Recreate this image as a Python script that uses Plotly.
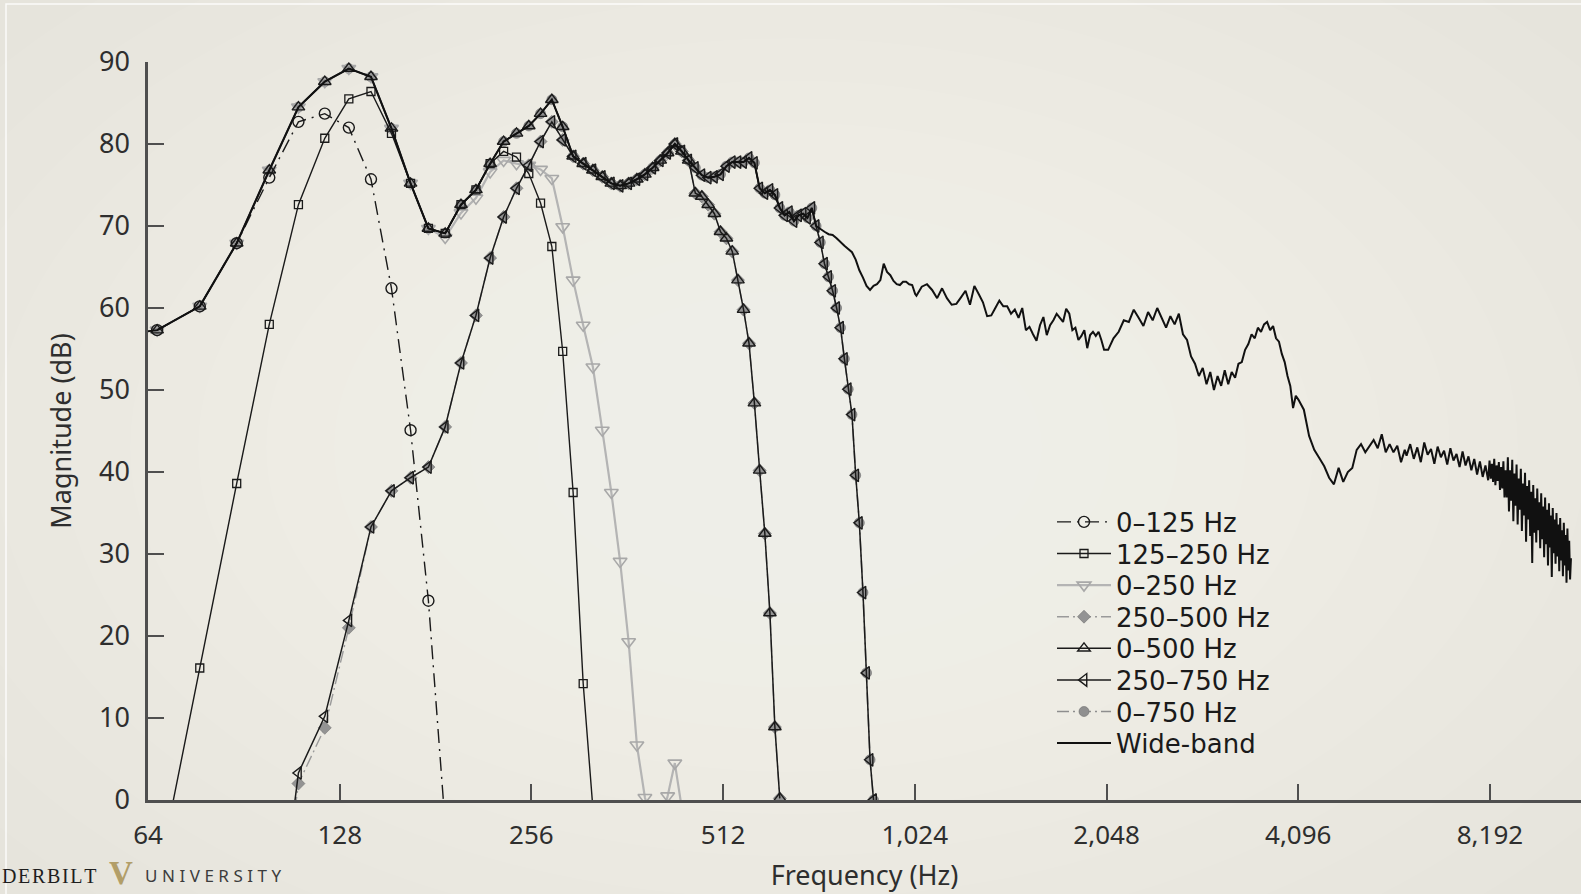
import numpy as np
import plotly.graph_objects as go

# ---------------------------------------------------------------------------
# Spectra on the FFT bin grid (bin width 11.025 Hz); values in dB
# ---------------------------------------------------------------------------
BIN_HZ = 11.025

# Wide-band envelope, bins 5..93
ENV_BIN0 = 5
ENVELOPE_DB = [
    56.6, 57.3, 60.2, 67.9, 76.8, 84.5, 87.6, 89.2, 88.2, 81.9,   # 5-14
    75.2, 69.7, 69.1, 72.6, 74.4, 77.6, 80.3, 81.3, 82.2, 83.7,   # 15-24
    85.4, 82.1, 78.5, 77.6, 76.8, 76.0, 75.2, 74.9, 75.2, 75.7,   # 25-34
    76.3, 77.1, 78.0, 78.9, 80.0, 79.1, 78.0, 77.1, 76.2, 75.9,   # 35-44
    76.0, 76.3, 77.3, 77.8, 77.8, 77.8, 78.3, 77.7, 74.6, 74.0,   # 45-54
    74.4, 73.8, 72.2, 71.3, 71.7, 70.6, 71.3, 71.5, 71.0, 72.2,   # 55-64
    70.0, 69.6, 69.3, 69.0, 68.9, 68.5, 68.0, 67.6, 67.2, 66.8,   # 65-74
    65.9, 64.6, 63.7, 62.7, 62.2, 62.7, 62.9, 63.4, 65.4, 64.4,   # 75-84
    64.0, 63.3, 62.9, 62.8, 63.2, 63.2, 62.9, 62.8, 61.7,         # 85-93
]

# Wide-band above 1 kHz: (start Hz, step Hz, values)
WB_1K_DB = [
    61.5, 62.6, 62.9, 62.2, 61.2, 62.4, 61.2, 60.4, 60.5, 61.3,
    62.1, 60.4, 62.7, 61.7, 60.7, 59.0, 59.1, 60.0, 60.9, 60.2,
    60.2, 59.3, 59.8, 58.8, 60.0, 57.3, 57.7, 56.8, 56.0, 57.9,
    58.9, 56.7, 57.9, 58.5, 59.3, 58.8, 58.3, 59.9, 59.3, 57.3,
    57.6, 56.1, 56.6, 57.3, 55.1, 56.7, 57.1, 56.6, 57.1, 56.1,
    54.9,
]
WB_2K_DB = [
    54.9, 56.3, 57.1, 58.5, 58.3, 59.8, 58.8, 57.8, 59.5, 58.5,
    60.0, 58.8, 57.6, 59.0, 58.0, 59.3, 56.8, 56.1, 54.1, 53.2,
    51.7, 52.7, 50.7, 52.2, 50.0, 51.7, 50.5, 52.4, 50.7, 52.2,
    51.5, 53.2, 53.4, 54.9, 55.6, 56.8, 56.3, 57.6, 57.1, 58.0,
    58.3, 57.3, 57.8, 56.3, 55.9, 54.4, 53.4, 51.7, 50.5, 47.8,
    49.3,
]
WB_4K_DB = [
    48.8, 47.6, 44.4, 42.7, 41.7, 40.7, 39.3, 38.5, 40.5, 38.8,
    40.0, 40.5, 42.7, 43.4, 42.4, 43.2, 43.9, 42.9, 44.6, 42.4,
    43.4, 42.4, 43.2, 41.2, 42.7,
]
WB_6K_DB = [
    42.0, 43.4, 41.6, 43.0, 41.2, 43.6, 42.1, 42.8, 41.0, 43.1,
    41.8, 42.6, 40.9, 42.9, 41.4, 42.2, 40.6, 42.5, 40.8, 41.9,
    40.2, 41.6, 39.7, 41.3, 39.4, 40.8, 39.0,
]
WB_8K_DB = [
    41.4, 39.2, 41.0, 38.8, 41.6, 38.4, 40.8, 38.9, 41.2, 37.8,
    40.6, 38.0, 41.3, 36.9, 40.2, 36.9, 41.8, 35.2, 40.2, 36.5,
    41.5, 34.0, 39.8, 35.9, 40.9, 33.6, 39.2, 35.4, 40.4, 32.8,
    38.6, 34.7, 39.9, 31.5, 38.3, 34.2, 39.0, 32.2, 37.6, 28.9,
    38.4, 32.6, 36.8, 31.4, 38.0, 32.9, 36.3, 30.7, 37.4, 31.8,
    35.8, 29.6, 36.9, 31.2, 35.4, 28.6, 36.2, 30.8, 34.7, 27.2,
    35.6, 30.1, 34.2, 28.8, 35.0, 29.7, 33.6, 27.9, 34.4, 29.2,
    32.9, 27.3, 33.8, 28.6, 32.3, 26.5, 33.1, 28.0, 31.6, 26.9,
    29.5,
]
WB_SEGMENTS = [(1030, 20, WB_1K_DB), (2060, 40, WB_2K_DB),
               (4100, 80, WB_4K_DB), (6060, 80, WB_6K_DB),
               (8180, 35, WB_8K_DB)]

# Filtered versions (values on bins, first bin noted)
LP125_DB = [57.3, 60.2, 67.9, 75.9, 82.7, 83.7, 82.0, 75.7, 62.4, 45.1,
            24.3, -3.0]                                             # bins 6-17
BP125_250_LOW_DB = [-9.9, 16.1, 38.6, 58.0, 72.6, 80.7, 85.5, 86.4, 81.3]   # bins 6-14
BP125_250_HIGH_DB = [79.1, 78.4, 76.4, 72.8, 67.5, 54.7, 37.5, 14.2, -1.0]  # bins 21-29
LP250_TAIL_DB = [68.6, 71.6, 73.4, 76.6, 78.0, 77.6, 77.4, 76.9, 75.8, 69.9,
                 63.4, 57.9, 52.8, 45.1, 37.5, 29.1, 19.3, 6.7, 0.3, -3.0,
                 -3.0, 0.5, 4.5, -1.0]                              # bins 17-40
RISE_250_750_DB = [-25.0, 3.3, 10.2, 21.9, 33.3, 37.7, 39.3, 40.6, 45.5, 53.3,
                   59.1, 66.1, 71.1, 74.6, 77.4, 80.3, 82.7, 80.5]  # bins 9-26
RISE_250_500_DB = [-25.0, 2.0, 8.8, 21.0, 33.3, 37.7, 39.3, 40.6, 45.5, 53.3,
                   59.1, 66.1, 71.1, 74.6, 77.4, 80.3, 82.7, 80.5]  # bins 9-26
ROLLOFF_500_DB = [74.0, 73.6, 72.6, 71.5, 69.3, 68.5, 66.9, 63.4, 59.8, 55.7,
                  48.4, 40.2, 32.5, 22.8, 8.9, 0.2]                 # bins 42-57
ROLLOFF_750_DB = [68.0, 65.4, 63.8, 62.1, 60.0, 57.6, 53.8, 50.1, 47.0, 39.6,
                  33.8, 25.3, 15.5, 4.9, 0.0]                       # bins 66-80

TICK_HZ = [64, 128, 256, 512, 1024, 2048, 4096, 8192]
TICK_TEXT = ["64", "128", "256", "512", "1,024", "2,048", "4,096", "8,192"]
Y_TICKS = [0, 10, 20, 30, 40, 50, 60, 70, 80, 90]


def env(k0, k1):
    return ENVELOPE_DB[k0 - ENV_BIN0:k1 - ENV_BIN0 + 1]


def bins_hz(k0, n):
    return [(k0 + i) * BIN_HZ for i in range(n)]


lp125 = LP125_DB
bp125_250 = BP125_250_LOW_DB + env(15, 20) + BP125_250_HIGH_DB
lp250 = env(6, 16) + LP250_TAIL_DB
bp250_500 = RISE_250_500_DB + env(27, 41) + ROLLOFF_500_DB
lp500 = env(6, 41) + ROLLOFF_500_DB
bp250_750 = RISE_250_750_DB + env(27, 65) + ROLLOFF_750_DB
lp750 = env(6, 65) + ROLLOFF_750_DB

wide_hz = bins_hz(ENV_BIN0, len(ENVELOPE_DB))
wide_db = list(ENVELOPE_DB)
for start, step, vals in WB_SEGMENTS:
    wide_hz += [start + step * i for i in range(len(vals))]
    wide_db += vals

BLACK = "#1a1a1a"
AXIS = "#4f4f4f"
PLOT_L, PLOT_W, PLOT_T, PLOT_H = 148, 1433, 62, 738

fig = go.Figure()

# drawing order: grey filled markers underneath, wide-band on top;
# "row" is the position of the entry in the key
series = [
    dict(name="0\u2013750 Hz", k0=6, y=lp750, row=6,
         line=dict(color="#8e8e8e", width=1.6, dash="12px,4px,2px,4px"),
         marker=dict(symbol="circle", size=10, color="#8f8f8f",
                     line=dict(color="#6e6e6e", width=0.6))),
    dict(name="250\u2013500 Hz", k0=9, y=bp250_500, row=3,
         line=dict(color="#9a9a9a", width=1.4, dash="12px,4px,2px,4px"),
         marker=dict(symbol="diamond", size=10, color="#939393",
                     line=dict(color="#707070", width=0.6))),
    dict(name="0\u2013250 Hz", k0=6, y=lp250, row=2,
         line=dict(color="#b4b4b4", width=2.2),
         marker=dict(symbol="triangle-down-open", size=12, color="#a8a8a8",
                     line=dict(color="#a8a8a8", width=1.6))),
    dict(name="250\u2013750 Hz", k0=9, y=bp250_750, row=5,
         line=dict(color=BLACK, width=1.5),
         marker=dict(symbol="triangle-left-open", size=11, color=BLACK,
                     line=dict(color=BLACK, width=1.4))),
    dict(name="0\u2013500 Hz", k0=6, y=lp500, row=4,
         line=dict(color=BLACK, width=1.5),
         marker=dict(symbol="triangle-up-open", size=11, color=BLACK,
                     line=dict(color=BLACK, width=1.4))),
    dict(name="125\u2013250 Hz", k0=6, y=bp125_250, row=1,
         line=dict(color=BLACK, width=1.4),
         marker=dict(symbol="square-open", size=8, color=BLACK,
                     line=dict(color=BLACK, width=1.3))),
    dict(name="0\u2013125 Hz", k0=6, y=lp125, row=0,
         line=dict(color=BLACK, width=1.4, dash="14px,6px,2px,6px"),
         marker=dict(symbol="circle-open", size=11, color=BLACK,
                     line=dict(color=BLACK, width=1.4))),
]


def legend_ref(row):
    return "legend" if row == 0 else f"legend{row + 1}"


for s in series:
    fig.add_trace(go.Scatter(
        x=bins_hz(s["k0"], len(s["y"])), y=s["y"], name=s["name"],
        mode="lines+markers", line=s["line"], marker=s["marker"],
        legend=legend_ref(s["row"]),
    ))

fig.add_trace(go.Scatter(
    x=wide_hz, y=wide_db, name="Wide-band", mode="lines",
    line=dict(color="#111111", width=2.0), legend=legend_ref(7),
))

# key: one single-entry legend per row, stacked at a fixed pitch
KEY_LEFT_PX, KEY_TOP_ROW_PX, KEY_PITCH_PX = 1052, 522, 31.6
legends = {}
for row in range(8):
    cy_px = KEY_TOP_ROW_PX + KEY_PITCH_PX * row
    legends[legend_ref(row)] = dict(
        x=(KEY_LEFT_PX - PLOT_L) / PLOT_W,
        y=(PLOT_T + PLOT_H - cy_px) / PLOT_H,
        xanchor="left", yanchor="middle",
        bgcolor="rgba(0,0,0,0)", borderwidth=0,
        font=dict(family="DejaVu Sans, Noto Sans, sans-serif", size=26,
                  color="#1a1a1a"),
        itemwidth=54, tracegroupgap=0,
    )

# soft vignette behind the chart
shapes = []
cx, cy = 0.448, 0.478
for i in range(12):
    rx_px = 1000 - 68 * i
    rx = rx_px / PLOT_W
    ry = rx_px * 0.62 / PLOT_H
    shapes.append(dict(type="circle", xref="paper", yref="paper",
                       x0=cx - rx, x1=cx + rx, y0=cy - ry, y1=cy + ry,
                       fillcolor="rgba(255,255,255,0.055)", line=dict(width=0),
                       layer="below"))
# slide frame
shapes.append(dict(type="rect", xref="paper", yref="paper",
                   x0=(6 - PLOT_L) / PLOT_W, x1=1.05, y0=-0.2,
                   y1=(PLOT_T + PLOT_H - 4) / PLOT_H,
                   line=dict(color="rgba(255,255,255,0.85)", width=1.5),
                   fillcolor="rgba(0,0,0,0)", layer="below"))

logo_y = (PLOT_T + PLOT_H - 876) / PLOT_H
annotations = [
    dict(text="\u200a".join("DERBILT"),
         xref="paper", yref="paper", x=(0 - PLOT_L) / PLOT_W, y=logo_y,
         xanchor="left", yanchor="middle", showarrow=False,
         font=dict(family="Liberation Serif, DejaVu Serif, serif", size=20,
                   color="#1e1e1e")),
    dict(text="<b>V</b>", xref="paper", yref="paper",
         x=(121 - PLOT_L) / PLOT_W, y=(PLOT_T + PLOT_H - 893) / PLOT_H,
         xanchor="center", yanchor="bottom", showarrow=False,
         font=dict(family="Liberation Serif, DejaVu Serif, serif", size=33,
                   color="#b29e68")),
    dict(text="\u2009\u200a".join("UNIVERSITY"), xref="paper", yref="paper",
         x=(143 - PLOT_L) / PLOT_W, y=logo_y,
         xanchor="left", yanchor="middle", showarrow=False,
         font=dict(family="Noto Sans, sans-serif", size=17, color="#3c3c3c")),
]

fig.update_layout(
    width=1581, height=894,
    margin=dict(l=PLOT_L, r=0, t=PLOT_T, b=94, pad=0),
    paper_bgcolor="#e6e4dc", plot_bgcolor="rgba(0,0,0,0)",
    font=dict(family="Noto Sans, Open Sans, sans-serif", color="#2e2e2e",
              size=24),
    showlegend=True,
    shapes=shapes,
    annotations=annotations,
    xaxis=dict(type="log", range=[np.log10(64), np.log10(11386)],
               tickvals=TICK_HZ, ticktext=TICK_TEXT,
               ticks="inside", ticklen=16, tickwidth=2, tickcolor=AXIS,
               showline=True, linecolor=AXIS, linewidth=2.5,
               showgrid=False, zeroline=False,
               tickfont=dict(size=26, color="#2e2e2e"), ticklabelstandoff=10,
               title=dict(text="Frequency (Hz)", font=dict(size=27),
                          standoff=16)),
    yaxis=dict(range=[0, 90], tickvals=Y_TICKS,
               ticks="inside", ticklen=16, tickwidth=2, tickcolor=AXIS,
               showline=True, linecolor=AXIS, linewidth=2.5,
               showgrid=False, zeroline=False,
               tickfont=dict(size=27, color="#2e2e2e"), ticklabelstandoff=10,
               title=dict(text="Magnitude (dB)", font=dict(size=27),
                          standoff=20)),
    **legends,
)

fig.write_html("out.html")
